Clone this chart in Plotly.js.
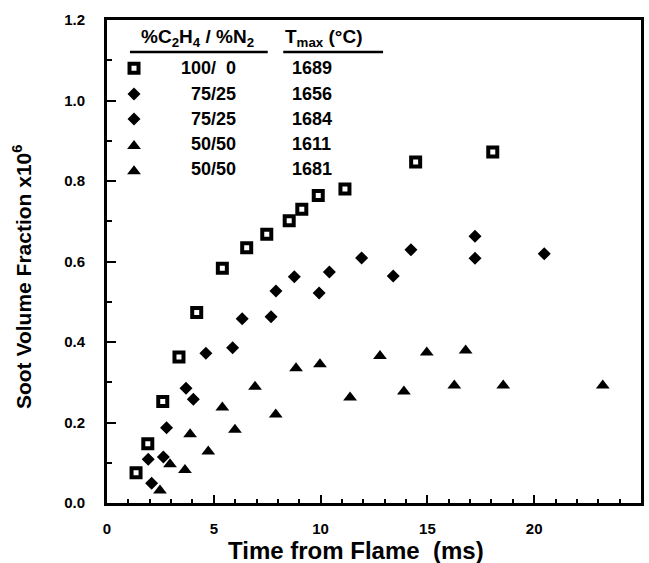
<!DOCTYPE html>
<html>
<head>
<meta charset="utf-8">
<script src="https://cdn.plot.ly/plotly-3.0.1.min.js"></script>
<style>html,body{margin:0;padding:0;background:#fff;}</style>
</head>
<body>
<div id="chart" style="width:649px;height:563px;"></div>
<script>
// ---- data (time in ms, soot volume fraction x1e6) ----
var seriesNames = ['100/  0', '75/25', '75/25', '50/50', '50/50'];
var seriesTmax  = ['1689', '1656', '1684', '1611', '1681'];

var sq100_x = [1.36,1.91,2.61,3.37,4.20,5.40,6.54,7.48,8.53,9.12,9.89,11.14,14.45,18.06];
var sq100_y = [0.075,0.147,0.252,0.363,0.473,0.583,0.634,0.668,0.701,0.730,0.764,0.780,0.847,0.872];

var dia1656_x = [2.09,2.64,4.04,5.88,7.68,9.93,13.40,17.23,20.47];
var dia1656_y = [0.049,0.114,0.258,0.386,0.463,0.522,0.564,0.608,0.619];

var dia1684_x = [1.93,2.79,3.70,4.63,6.33,7.91,8.77,10.41,11.92,14.23,17.23];
var dia1684_y = [0.109,0.187,0.285,0.372,0.458,0.527,0.562,0.574,0.609,0.629,0.663];

var tri1611_x = [2.48,3.65,4.74,5.99,7.90,11.38,13.90,16.26,18.55,23.21];
var tri1611_y = [0.031,0.082,0.128,0.182,0.220,0.262,0.277,0.292,0.292,0.292];

var tri1681_x = [2.95,3.89,5.40,6.93,8.85,9.97,12.78,14.97,16.79];
var tri1681_y = [0.096,0.171,0.237,0.289,0.335,0.345,0.365,0.374,0.379];

var xTicks = [0,5,10,15,20,25];
var yTicks = [0.0,0.2,0.4,0.6,0.8,1.0,1.2];

// ---- styles ----
var FONT = 'Liberation Sans, Arial, Helvetica, sans-serif';
var styles = [
  {symbol:'square-open', size:9,  line:4},
  {symbol:'diamond',     size:10, line:0},
  {symbol:'diamond',     size:10, line:0},
  {symbol:'triangle-up', size:12, line:0},
  {symbol:'triangle-up', size:12, line:0}
];
var xs = [sq100_x, dia1656_x, dia1684_x, tri1611_x, tri1681_x];
var ys = [sq100_y, dia1656_y, dia1684_y, tri1611_y, tri1681_y];

var traces = xs.map(function(x, i){
  return {
    type:'scatter', mode:'markers', x:x, y:ys[i],
    name: seriesNames[i] + ' ' + seriesTmax[i],
    marker:{symbol:styles[i].symbol, size:styles[i].size, color:'#000', opacity:1,
            line:{color:'#000', width:styles[i].line}},
    hoverinfo:'x+y'
  };
});

// key symbols on an invisible overlay axis (0..1 paper-like), one per series
var keyX = 0.0506;
var keyY = [0.900, 0.847, 0.795, 0.743, 0.691];
styles.forEach(function(s, i){
  traces.push({
    type:'scatter', mode:'markers', xaxis:'x2', yaxis:'y2',
    x:[keyX], y:[s.symbol==='triangle-up' ? keyY[i]-0.004 : keyY[i]],
    marker:{symbol:s.symbol, size:s.size, color:'#000', opacity:1, line:{color:'#000', width:s.line}},
    hoverinfo:'skip', showlegend:false
  });
});

var annotations = [];
function addText(text, x, y, xanchor, size, extra){
  var a = {xref:'paper', yref:'paper', x:x, y:y, xanchor:xanchor, yanchor:'middle',
           text:text, showarrow:false, font:{family:FONT, size:size, color:'#000', weight:'bold'}};
  if(extra){ for(var k in extra) a[k]=extra[k]; }
  annotations.push(a);
}
addText('%C<sub>2</sub>H<sub>4</sub> / %N<sub>2</sub>', 0.170, 0.963, 'center', 19);
addText('T<sub>max</sub> (°C)', 0.330, 0.963, 'left', 19);
for (var i=0;i<seriesNames.length;i++){
  addText(seriesNames[i].replace(/ /g,'\u00a0'), 0.2453, keyY[i], 'right', 18);
  addText(seriesTmax[i], 0.3427, keyY[i], 'left', 18);
}
// axis titles
addText('Time from Flame\u00a0\u00a0(ms)', 0.466, -0.099, 'center', 24);
addText('Soot Volume Fraction x10<sup>6</sup>', -0.159, 0.468, 'center', 21, {textangle:-90});

var shapes = [
  {type:'line', xref:'paper', yref:'paper', x0:0.043, x1:0.301, y0:0.934, y1:0.934, line:{color:'#000', width:2.5}},
  {type:'line', xref:'paper', yref:'paper', x0:0.330, x1:0.517, y0:0.934, y1:0.934, line:{color:'#000', width:2.5}}
];

var axisCommon = {
  ticks:'inside', tickwidth:2, tickcolor:'#000',
  showline:true, linewidth:3, linecolor:'#000', mirror:true,
  showgrid:false, zeroline:false,
  tickfont:{family:FONT, size:15, color:'#000', weight:'bold'}
};
var xaxis = Object.assign({}, axisCommon, {
  range:[0,25], tickmode:'array', tickvals:xTicks, ticktext:xTicks.map(String), ticklen:8,
  ticklabelstandoff:10,
  minor:{dtick:1, tick0:0, ticks:'inside', ticklen:4, tickwidth:2, tickcolor:'#000', showgrid:false}
});
var yaxis = Object.assign({}, axisCommon, {
  range:[0,1.2], tickmode:'array', tickvals:yTicks, ticktext:yTicks.map(function(v){return v.toFixed(1);}), ticklen:9,
  ticklabelstandoff:16,
  minor:{dtick:0.1, tick0:0, ticks:'inside', ticklen:5, tickwidth:2, tickcolor:'#000', showgrid:false}
});

var layout = {
  width:649, height:563,
  margin:{l:107, r:8, t:20, b:60},
  paper_bgcolor:'#fff', plot_bgcolor:'#fff',
  showlegend:false,
  font:{family:FONT, color:'#000'},
  xaxis:xaxis, yaxis:yaxis,
  xaxis2:{overlaying:'x', range:[0,1], visible:false, fixedrange:true},
  yaxis2:{overlaying:'y', range:[0,1], visible:false, fixedrange:true},
  annotations:annotations, shapes:shapes
};

Plotly.newPlot('chart', traces, layout, {displayModeBar:false, staticPlot:true});
</script>
</body>
</html>
